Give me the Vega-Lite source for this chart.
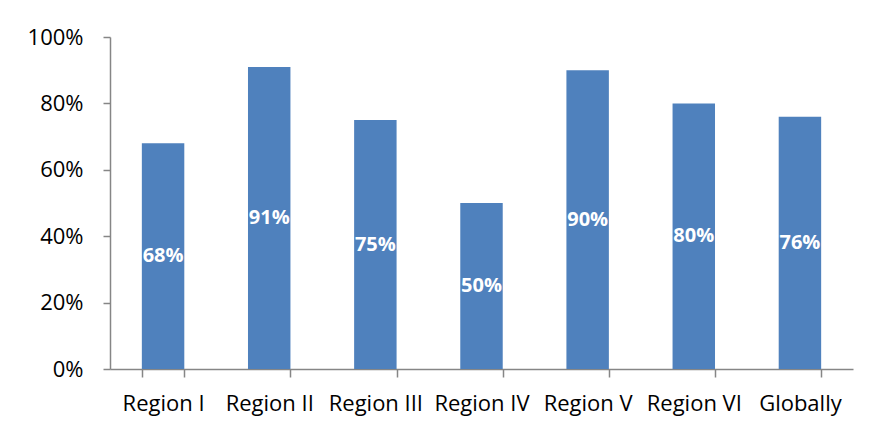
{
  "$schema": "https://vega.github.io/schema/vega-lite/v6.json",
  "width": 743,
  "height": 332,
  "autosize": {"type": "none"},
  "padding": {"left": 110, "top": 37, "right": 16, "bottom": 63},
  "background": "white",
  "config": {"view": {"stroke": null}, "font": "Open Sans"},
  "data": {
    "values": [
      {"region": "Region I", "value": 0.68},
      {"region": "Region II", "value": 0.91},
      {"region": "Region III", "value": 0.75},
      {"region": "Region IV", "value": 0.50},
      {"region": "Region V", "value": 0.90},
      {"region": "Region VI", "value": 0.80},
      {"region": "Globally", "value": 0.76}
    ]
  },
  "transform": [{"calculate": "datum.value / 2", "as": "mid"}],
  "encoding": {
    "x": {
      "field": "region",
      "type": "nominal",
      "sort": null,
      "scale": {"paddingInner": 0.6, "paddingOuter": 0.3},
      "axis": {
        "title": null,
        "labelAngle": 0,
        "labelFontSize": 22,
        "labelColor": "black",
        "labelPadding": 16,
        "labelOverlap": false,
        "domainColor": "#868686",
        "tickColor": "#868686",
        "tickSize": 8,
        "tickBand": "extent",
        "domainWidth": 1.5,
        "tickWidth": 1.5
      }
    }
  },
  "layer": [
    {
      "mark": {"type": "bar", "color": "#4F81BD"},
      "encoding": {
        "y": {
          "field": "value",
          "type": "quantitative",
          "scale": {"domain": [0, 1]},
          "axis": {
            "title": null,
            "format": ".0%",
            "values": [0, 0.2, 0.4, 0.6, 0.8, 1],
            "labelFontSize": 22,
            "labelColor": "black",
            "labelPadding": 20,
            "grid": false,
            "domainColor": "#868686",
            "tickColor": "#868686",
            "tickSize": 7,
            "domainWidth": 1.5,
            "tickWidth": 1.5
          }
        }
      }
    },
    {
      "mark": {"type": "text", "color": "white", "fontWeight": "bold", "fontSize": 20, "baseline": "middle"},
      "encoding": {
        "y": {"field": "mid", "type": "quantitative"},
        "text": {"field": "value", "type": "quantitative", "format": ".0%"}
      }
    }
  ]
}
